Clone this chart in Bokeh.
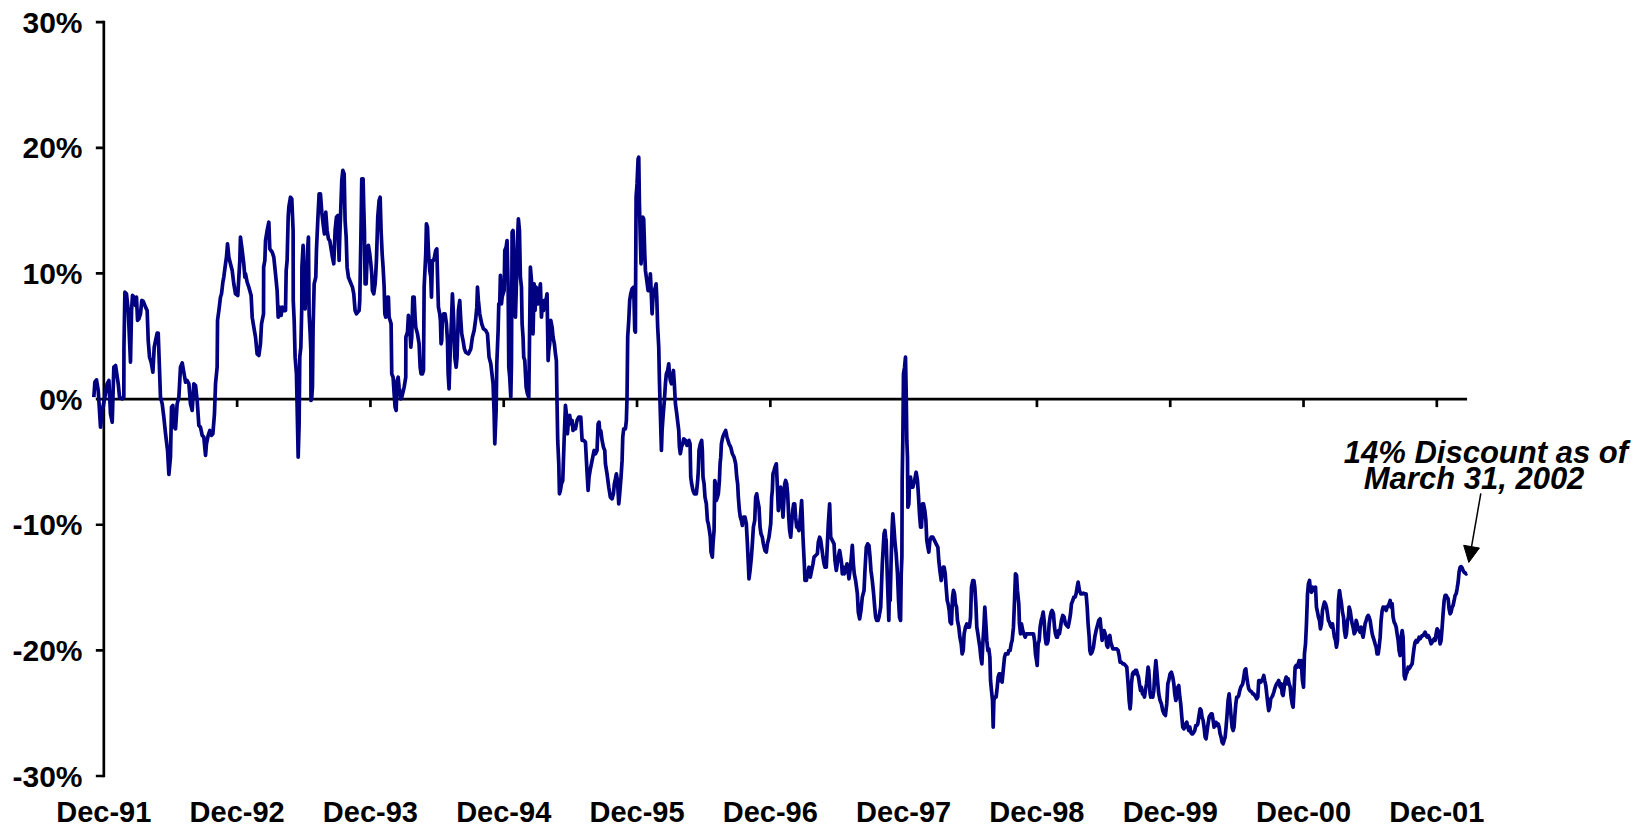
import numpy as np
from bokeh.plotting import figure
from bokeh.models import Range1d, FixedTicker, PrintfTickFormatter, Label, Arrow, NormalHead
from bokeh.embed import file_html
from bokeh.resources import INLINE

# ---- data: premium(+)/discount(-) in % ----
# each list holds (decimal year, percent) pairs; "Dec-91" tick == 1992.0
disc_1992_93 = [
    (1991.925, 0.15), (1991.933, 1.35), (1991.945, 1.53), (1991.958, 0.69), (1991.975, -2.24), (1991.988, -0.90),
    (1992.008, 0.15), (1992.025, 1.22), (1992.038, 1.48), (1992.050, -1.17), (1992.063, -1.83), (1992.075, 2.54),
    (1992.088, 2.67), (1992.108, 1.22), (1992.118, 0.15), (1992.138, 0.02), (1992.150, 0.15), (1992.151, 4.13),
    (1992.158, 8.51), (1992.170, 8.38), (1992.183, 7.05), (1992.200, 2.94), (1992.208, 7.05), (1992.215, 8.25),
    (1992.228, 8.11), (1992.238, 7.45), (1992.245, 8.11), (1992.253, 6.26), (1992.263, 6.39), (1992.275, 6.79),
    (1992.285, 7.85), (1992.295, 7.80), (1992.313, 7.32), (1992.325, 7.05), (1992.333, 4.66), (1992.343, 3.33),
    (1992.355, 2.94), (1992.368, 2.14), (1992.378, 4.13), (1992.388, 4.66), (1992.400, 5.25), (1992.408, 5.25),
    (1992.418, 2.28), (1992.425, 0.15), (1992.438, -0.38), (1992.450, -1.43), (1992.463, -2.76), (1992.478, -4.09),
    (1992.488, -6.00), (1992.500, -4.62), (1992.508, -0.64), (1992.518, -0.50), (1992.528, -2.23), (1992.538, -2.37),
    (1992.550, -0.38), (1992.563, 0.15), (1992.575, 2.54), (1992.588, 2.88), (1992.600, 2.14), (1992.613, 1.35),
    (1992.625, 1.48), (1992.638, 1.22), (1992.650, -0.38), (1992.663, -0.90), (1992.675, 1.22), (1992.688, 1.08),
    (1992.700, -0.11), (1992.713, -2.10), (1992.725, -2.23), (1992.738, -2.89), (1992.750, -3.02), (1992.763, -4.48),
    (1992.770, -3.56), (1992.783, -2.89), (1992.795, -2.50), (1992.808, -2.89), (1992.818, -2.76), (1992.830, -1.17),
    (1992.838, 1.22), (1992.850, 2.54), (1992.853, 6.26), (1992.863, 7.05), (1992.875, 8.11), (1992.883, 8.38),
    (1992.893, 9.31), (1992.900, 9.71), (1992.913, 10.77), (1992.920, 11.30), (1992.928, 12.36), (1992.938, 11.30),
    (1992.950, 10.77), (1992.963, 10.24), (1992.975, 9.17), (1992.988, 8.38), (1993.005, 8.25), (1993.013, 9.71),
    (1993.020, 11.03), (1993.025, 12.89), (1993.038, 11.83), (1993.050, 10.77), (1993.058, 9.71), (1993.063, 9.97),
    (1993.075, 9.31), (1993.088, 8.91), (1993.105, 8.25), (1993.113, 6.52), (1993.125, 5.73), (1993.138, 4.93),
    (1993.150, 3.60), (1993.163, 3.47), (1993.175, 4.40), (1993.183, 5.99), (1993.198, 6.79), (1993.199, 10.50),
    (1993.208, 11.03), (1993.213, 12.62), (1993.225, 13.42), (1993.238, 14.08), (1993.245, 11.96), (1993.263, 11.70),
    (1993.275, 11.30), (1993.288, 9.97), (1993.300, 8.64), (1993.308, 6.52), (1993.318, 7.32), (1993.330, 6.66),
    (1993.338, 7.32), (1993.350, 7.05), (1993.363, 7.05), (1993.368, 10.24), (1993.375, 11.03), (1993.383, 14.48),
    (1993.388, 15.28), (1993.400, 16.07),
]
disc_1993_94 = [
    (1993.410, 15.94), (1993.420, 13.42), (1993.421, 7.85), (1993.428, 6.26), (1993.435, 3.34), (1993.445, 2.01),
    (1993.458, -4.62), (1993.465, -1.98), (1993.470, 3.34), (1993.478, 4.13), (1993.485, 7.32), (1993.486, 10.50),
    (1993.495, 12.23), (1993.503, 7.32), (1993.510, 7.18), (1993.520, 9.44), (1993.528, 11.83), (1993.535, 12.89),
    (1993.540, 6.79), (1993.548, 5.19), (1993.553, 3.87), (1993.554, -0.11), (1993.560, 0.15), (1993.565, 0.95),
    (1993.570, 5.72), (1993.578, 9.17), (1993.590, 9.70), (1993.595, 11.83), (1993.605, 14.21), (1993.615, 16.34),
    (1993.625, 16.34), (1993.635, 14.88), (1993.645, 13.95), (1993.655, 13.15), (1993.665, 14.88), (1993.675, 13.42),
    (1993.685, 12.76), (1993.695, 12.62), (1993.705, 11.96), (1993.715, 11.30), (1993.725, 10.77), (1993.735, 13.42),
    (1993.745, 14.48), (1993.755, 14.61), (1993.765, 11.03), (1993.770, 12.89), (1993.778, 15.28), (1993.785, 17.40),
    (1993.793, 18.20), (1993.803, 17.93), (1993.810, 14.21), (1993.818, 12.89), (1993.825, 10.50), (1993.835, 9.70),
    (1993.845, 9.44), (1993.855, 9.17), (1993.865, 8.91), (1993.875, 8.38), (1993.885, 7.05), (1993.895, 6.79),
    (1993.905, 6.92), (1993.915, 7.05), (1993.920, 7.85), (1993.928, 12.62), (1993.935, 17.53), (1993.945, 17.53),
    (1993.950, 15.28), (1993.955, 13.42), (1993.960, 9.17), (1993.968, 9.17), (1993.978, 12.09), (1993.985, 12.23),
    (1993.995, 11.56), (1994.003, 10.77), (1994.010, 9.97), (1994.015, 8.64), (1994.025, 8.38), (1994.035, 9.17),
    (1994.040, 9.97), (1994.045, 11.03), (1994.055, 14.48), (1994.065, 15.81), (1994.073, 16.07), (1994.080, 13.42),
    (1994.088, 11.56), (1994.095, 10.50), (1994.103, 8.91), (1994.108, 6.79), (1994.115, 6.52), (1994.120, 7.05),
    (1994.128, 8.11), (1994.135, 8.11), (1994.140, 6.52), (1994.148, 6.26), (1994.155, 5.99), (1994.160, 2.01),
    (1994.170, 1.74), (1994.178, 0.42), (1994.185, -0.64), (1994.193, -0.90), (1994.200, 1.48), (1994.208, 1.74),
    (1994.215, 0.95), (1994.228, 0.02), (1994.235, 0.15), (1994.253, 0.95), (1994.265, 1.74), (1994.266, 4.93),
    (1994.278, 5.33), (1994.285, 6.66), (1994.295, 5.72), (1994.303, 4.13), (1994.310, 4.93), (1994.318, 8.11),
    (1994.328, 8.11), (1994.335, 6.52), (1994.340, 5.72), (1994.353, 5.19), (1994.365, 4.40), (1994.373, 2.54),
    (1994.380, 2.01), (1994.390, 2.01), (1994.398, 2.28), (1994.403, 8.91), (1994.415, 11.56), (1994.420, 13.95),
    (1994.428, 13.68), (1994.435, 11.83), (1994.445, 10.24), (1994.453, 9.70), (1994.458, 8.11), (1994.465, 11.03),
    (1994.473, 11.03), (1994.480, 11.30), (1994.490, 11.83), (1994.498, 11.96), (1994.503, 9.97), (1994.510, 7.32),
    (1994.520, 6.79), (1994.525, 6.26), (1994.530, 4.40), (1994.535, 4.66), (1994.540, 6.52), (1994.550, 6.79),
    (1994.560, 6.79), (1994.570, 5.99), (1994.578, 4.66), (1994.583, 2.01), (1994.590, 0.82), (1994.598, 3.60),
    (1994.608, 6.26), (1994.615, 8.38), (1994.625, 6.26), (1994.633, 3.34), (1994.643, 2.54), (1994.650, 3.34),
    (1994.660, 7.05), (1994.670, 7.85), (1994.678, 6.26), (1994.685, 5.19), (1994.695, 4.66), (1994.705, 4.00),
    (1994.715, 3.73), (1994.735, 3.60), (1994.753, 4.00), (1994.765, 4.93), (1994.778, 5.46), (1994.790, 6.39),
    (1994.798, 7.32), (1994.803, 8.91), (1994.810, 7.85), (1994.820, 6.79), (1994.835, 5.99), (1994.848, 5.59),
    (1994.865, 5.46), (1994.878, 5.19), (1994.890, 3.34), (1994.903, 2.81),
]
disc_1995_96 = [
    (1994.920, 1.22), (1994.928, -1.17), (1994.933, -3.56), (1994.943, -0.90), (1994.948, 2.81), (1994.953, 4.13),
    (1994.958, 5.46), (1994.963, 7.58), (1994.970, 7.58), (1994.975, 9.84), (1994.983, 7.58), (1994.988, 8.11),
    (1994.995, 8.38), (1995.003, 8.64), (1995.008, 11.83), (1995.018, 12.09), (1995.025, 12.62), (1995.033, 8.91),
    (1995.038, 2.54), (1995.045, 1.75), (1995.053, 0.15), (1995.058, 2.81), (1995.063, 13.29), (1995.070, 13.42),
    (1995.078, 9.70), (1995.088, 6.52), (1995.095, 9.17), (1995.103, 12.62), (1995.110, 14.34), (1995.118, 13.42),
    (1995.125, 9.70), (1995.133, 8.91), (1995.138, 5.99), (1995.145, 4.93), (1995.150, 3.34), (1995.158, 3.07),
    (1995.168, 0.95), (1995.178, 0.42), (1995.188, 0.15), (1995.193, 4.40), (1995.200, 10.50), (1995.208, 9.44),
    (1995.213, 7.58), (1995.220, 5.19), (1995.228, 9.17), (1995.235, 7.05), (1995.243, 8.91), (1995.250, 8.11),
    (1995.258, 7.58), (1995.268, 8.64), (1995.275, 9.17), (1995.283, 6.52), (1995.290, 7.58), (1995.298, 7.05),
    (1995.305, 7.85), (1995.313, 7.58), (1995.325, 8.38), (1995.333, 3.07), (1995.338, 3.87), (1995.345, 4.40),
    (1995.353, 6.26), (1995.363, 5.72), (1995.370, 4.93), (1995.380, 4.40), (1995.388, 3.60), (1995.395, 3.07),
    (1995.400, -0.37), (1995.405, -3.29), (1995.413, -5.15), (1995.418, -7.54), (1995.425, -7.28), (1995.433, -6.75),
    (1995.443, -6.48), (1995.453, -3.29), (1995.463, -0.50), (1995.470, -1.17), (1995.478, -2.76), (1995.488, -1.43),
    (1995.495, -1.30), (1995.503, -1.97), (1995.513, -1.70), (1995.520, -2.50), (1995.528, -2.23), (1995.538, -2.37),
    (1995.550, -1.70), (1995.563, -1.43), (1995.570, -1.43), (1995.578, -1.43), (1995.588, -3.29), (1995.600, -3.29),
    (1995.613, -3.42), (1995.625, -5.81), (1995.633, -7.27), (1995.640, -6.21), (1995.648, -5.68), (1995.658, -5.15),
    (1995.668, -4.62), (1995.678, -4.09), (1995.688, -4.36), (1995.700, -4.09), (1995.708, -1.97), (1995.715, -1.83),
    (1995.720, -2.50), (1995.728, -2.50), (1995.738, -3.29), (1995.748, -3.82), (1995.758, -4.09), (1995.763, -5.15),
    (1995.775, -5.95), (1995.788, -7.01), (1995.800, -7.81), (1995.813, -7.94), (1995.823, -7.54), (1995.830, -6.75),
    (1995.838, -6.35), (1995.845, -5.95), (1995.853, -6.48), (1995.863, -8.34), (1995.870, -7.54), (1995.880, -6.21),
    (1995.888, -4.88), (1995.893, -3.03), (1995.900, -2.37), (1995.913, -2.37), (1995.920, -1.70), (1995.925, 0.15),
    (1995.930, 4.93), (1995.938, 6.26), (1995.945, 7.85), (1995.953, 8.38), (1995.963, 8.78), (1995.975, 8.91),
    (1995.983, 5.46), (1995.988, 5.33), (1995.989, 8.11), (1995.993, 16.07), (1996.000, 17.13), (1996.008, 19.12),
    (1996.013, 19.25), (1996.018, 15.54), (1996.025, 12.62), (1996.030, 10.77), (1996.038, 12.09), (1996.043, 14.48),
    (1996.050, 14.34), (1996.058, 11.56), (1996.063, 10.24), (1996.070, 9.70), (1996.083, 8.64), (1996.093, 8.64),
    (1996.100, 9.97), (1996.105, 8.91), (1996.113, 6.79), (1996.120, 8.11), (1996.130, 8.64), (1996.138, 8.91),
    (1996.143, 9.17), (1996.148, 8.11), (1996.155, 5.72), (1996.163, 4.13), (1996.168, 1.48), (1996.175, -1.17),
    (1996.183, -4.09), (1996.188, -2.50), (1996.195, -1.43), (1996.205, -0.11), (1996.213, 1.22), (1996.220, 2.01),
    (1996.230, 2.28), (1996.238, 2.81), (1996.243, 2.01), (1996.250, 1.48), (1996.258, 1.22), (1996.265, 1.75),
    (1996.273, 2.28), (1996.280, 1.22), (1996.288, -0.37), (1996.298, -1.17), (1996.313, -2.50), (1996.318, -3.82),
    (1996.325, -4.35), (1996.333, -3.82), (1996.343, -3.56), (1996.350, -3.16), (1996.363, -3.29), (1996.375, -3.69),
    (1996.388, -3.56),
]
disc_1996_97 = [
    (1996.390, -3.29), (1996.398, -3.56), (1996.403, -6.21), (1996.410, -6.75), (1996.420, -7.28), (1996.430, -7.54),
    (1996.445, -7.54), (1996.455, -6.48), (1996.460, -5.68), (1996.465, -4.09), (1996.475, -3.56), (1996.485, -3.29),
    (1996.490, -4.09), (1996.495, -6.21), (1996.503, -6.75), (1996.510, -7.81), (1996.520, -8.34), (1996.528, -9.66),
    (1996.535, -9.93), (1996.543, -10.46), (1996.550, -10.99), (1996.555, -12.18), (1996.565, -12.58), (1996.570, -11.52),
    (1996.578, -10.46), (1996.583, -6.48), (1996.590, -6.75), (1996.595, -8.07), (1996.603, -7.81), (1996.610, -7.54),
    (1996.618, -6.48), (1996.623, -5.15), (1996.628, -4.62), (1996.633, -3.56), (1996.643, -3.03), (1996.653, -2.76),
    (1996.665, -2.50), (1996.675, -3.03), (1996.690, -3.56), (1996.703, -3.82), (1996.715, -4.35), (1996.728, -4.62),
    (1996.740, -5.15), (1996.748, -6.21), (1996.755, -6.75), (1996.760, -7.81), (1996.768, -8.87), (1996.775, -9.40),
    (1996.783, -9.66), (1996.790, -10.06), (1996.798, -9.40), (1996.810, -9.40), (1996.820, -9.93), (1996.828, -11.52),
    (1996.835, -13.11), (1996.840, -14.31), (1996.848, -13.64), (1996.858, -12.58), (1996.865, -11.52), (1996.873, -10.19),
    (1996.883, -9.66), (1996.890, -7.81), (1996.898, -7.54), (1996.905, -8.07), (1996.915, -8.60), (1996.923, -10.19),
    (1996.930, -10.72), (1996.940, -10.99), (1996.948, -11.52), (1996.960, -12.05), (1996.970, -12.18), (1996.978, -11.52),
    (1996.990, -10.99), (1997.003, -9.93), (1997.010, -7.81), (1997.015, -7.28), (1997.020, -5.95), (1997.028, -5.68),
    (1997.035, -5.42), (1997.045, -5.15), (1997.053, -7.01), (1997.060, -8.87), (1997.070, -7.81), (1997.078, -7.01),
    (1997.085, -7.81), (1997.095, -9.40), (1997.103, -7.81), (1997.108, -6.75), (1997.115, -6.48), (1997.123, -6.75),
    (1997.130, -7.54), (1997.138, -9.40), (1997.145, -10.46), (1997.153, -10.99), (1997.160, -9.93), (1997.168, -8.87),
    (1997.175, -8.34), (1997.183, -8.34), (1997.190, -9.40), (1997.198, -10.19), (1997.205, -10.19), (1997.215, -10.46),
    (1997.225, -9.40), (1997.235, -8.07), (1997.240, -9.40), (1997.245, -10.99), (1997.250, -12.05), (1997.255, -13.11),
    (1997.260, -14.44), (1997.270, -14.44), (1997.280, -13.91), (1997.290, -13.38), (1997.300, -14.17), (1997.310, -13.64),
    (1997.320, -13.11), (1997.328, -12.58), (1997.340, -12.45), (1997.353, -12.31), (1997.360, -11.39), (1997.370, -10.99),
    (1997.378, -11.25), (1997.385, -11.78), (1997.395, -12.58), (1997.403, -13.11), (1997.410, -13.38), (1997.420, -13.38),
    (1997.428, -11.52), (1997.435, -9.93), (1997.440, -9.13), (1997.445, -8.34), (1997.453, -10.99), (1997.465, -11.25),
    (1997.478, -11.52), (1997.485, -12.85), (1997.495, -13.64), (1997.503, -13.11), (1997.510, -12.58), (1997.520, -12.05),
    (1997.528, -12.58), (1997.535, -13.11), (1997.540, -13.91), (1997.548, -13.38), (1997.555, -13.91), (1997.565, -13.64),
    (1997.575, -13.11), (1997.583, -13.64), (1997.590, -14.31), (1997.598, -13.64), (1997.608, -12.58), (1997.615, -11.65),
    (1997.623, -13.11), (1997.630, -13.91), (1997.640, -14.44), (1997.653, -15.50), (1997.660, -16.96), (1997.670, -17.49),
    (1997.680, -16.83), (1997.690, -15.76), (1997.703, -15.23), (1997.710, -13.64), (1997.720, -11.78), (1997.730, -11.52),
    (1997.740, -11.65), (1997.748, -12.58), (1997.755, -13.64), (1997.765, -14.44), (1997.775, -15.50), (1997.783, -16.56),
    (1997.790, -17.36), (1997.798, -17.62), (1997.808, -17.62), (1997.815, -17.36), (1997.828, -16.56), (1997.840, -13.11),
    (1997.853, -10.72), (1997.860, -10.46), (1997.865, -10.99),
]
disc_1998_99 = [
    (1997.869, -11.26), (1997.877, -13.91), (1997.884, -16.03), (1997.889, -17.62), (1997.894, -14.70), (1997.899, -16.03),
    (1997.907, -12.58), (1997.914, -10.19), (1997.919, -9.13), (1997.927, -10.19), (1997.934, -11.26), (1997.944, -12.32),
    (1997.954, -13.91), (1997.962, -16.03), (1997.969, -17.36), (1997.977, -17.62), (1997.982, -13.91), (1997.987, -12.58),
    (1997.989, -6.48), (1997.994, -3.29), (1997.999, 2.01), (1998.007, 2.54), (1998.014, 3.34), (1998.019, 0.68),
    (1998.024, -3.29), (1998.029, -4.62), (1998.032, -8.60), (1998.039, -8.34), (1998.044, -6.75), (1998.052, -6.21),
    (1998.059, -7.01), (1998.069, -7.01), (1998.082, -6.48), (1998.094, -5.82), (1998.104, -6.48), (1998.112, -7.81),
    (1998.119, -9.13), (1998.127, -10.19), (1998.134, -10.19), (1998.142, -8.34), (1998.149, -8.34), (1998.159, -8.87),
    (1998.167, -9.66), (1998.174, -11.26), (1998.182, -11.79), (1998.189, -12.18), (1998.197, -11.26), (1998.207, -10.99),
    (1998.219, -10.99), (1998.232, -11.26), (1998.244, -11.52), (1998.257, -11.79), (1998.264, -12.85), (1998.272, -13.64),
    (1998.282, -14.44), (1998.289, -13.91), (1998.297, -13.38), (1998.304, -13.38), (1998.312, -13.91), (1998.319, -14.97),
    (1998.327, -16.03), (1998.334, -16.30), (1998.342, -16.83), (1998.349, -17.75), (1998.359, -17.89), (1998.367, -15.76),
    (1998.374, -15.23), (1998.382, -15.50), (1998.389, -16.30), (1998.397, -16.56), (1998.404, -17.62), (1998.414, -18.15),
    (1998.422, -18.95), (1998.432, -19.48), (1998.439, -20.28), (1998.447, -20.01), (1998.454, -18.68), (1998.464, -18.15),
    (1998.474, -17.89), (1998.484, -18.15), (1998.494, -18.15), (1998.502, -17.36), (1998.509, -14.97), (1998.519, -14.44),
    (1998.527, -14.44), (1998.534, -14.97), (1998.542, -16.30), (1998.549, -18.15), (1998.557, -18.68), (1998.564, -19.21),
    (1998.572, -19.74), (1998.579, -20.54), (1998.587, -21.07), (1998.594, -19.48), (1998.602, -18.15), (1998.609, -16.56),
    (1998.617, -17.89), (1998.624, -19.21), (1998.632, -20.01), (1998.639, -19.88), (1998.647, -20.54), (1998.652, -22.40),
    (1998.659, -23.19), (1998.667, -23.99), (1998.672, -26.11), (1998.677, -23.99), (1998.684, -23.72), (1998.694, -23.72),
    (1998.702, -22.93), (1998.709, -22.13), (1998.717, -21.87), (1998.724, -22.40), (1998.732, -21.87), (1998.739, -22.53),
    (1998.747, -21.60), (1998.757, -20.54), (1998.764, -20.28), (1998.774, -20.28), (1998.782, -20.28), (1998.789, -20.01),
    (1998.799, -20.01), (1998.807, -19.48), (1998.814, -19.21), (1998.824, -18.15), (1998.832, -16.03), (1998.839, -13.91),
    (1998.847, -14.04), (1998.854, -15.23), (1998.864, -16.30), (1998.869, -17.89), (1998.877, -18.68), (1998.884, -17.89),
    (1998.894, -18.42), (1998.902, -18.68), (1998.912, -18.95), (1998.922, -18.68), (1998.932, -18.68), (1998.944, -18.68),
    (1998.957, -18.68), (1998.964, -18.68), (1998.974, -18.68), (1998.982, -19.21), (1998.989, -20.28), (1998.997, -20.81),
    (1999.002, -21.20), (1999.009, -19.48), (1999.017, -19.21), (1999.024, -18.15), (1999.032, -17.62), (1999.039, -17.36),
    (1999.047, -16.96), (1999.054, -17.62), (1999.062, -18.95), (1999.069, -19.48), (1999.077, -19.48), (1999.084, -19.21),
    (1999.092, -17.89), (1999.099, -17.36), (1999.107, -16.96), (1999.114, -16.83), (1999.124, -17.09), (1999.132, -18.15),
    (1999.139, -18.68), (1999.147, -18.95), (1999.154, -18.95), (1999.162, -18.42), (1999.169, -18.68), (1999.177, -18.15),
    (1999.184, -17.62), (1999.194, -17.22), (1999.204, -17.36), (1999.214, -17.89), (1999.224, -18.02), (1999.234, -18.15),
    (1999.244, -17.62), (1999.252, -17.09), (1999.259, -16.30), (1999.269, -16.03), (1999.277, -15.76), (1999.287, -15.76),
    (1999.294, -15.50), (1999.302, -14.97), (1999.309, -14.57), (1999.319, -15.23), (1999.329, -15.50), (1999.339, -15.50),
]
disc_1999_00 = [
    (1999.349, -15.45), (1999.359, -15.50), (1999.369, -15.50), (1999.377, -16.56), (1999.384, -17.89), (1999.392, -18.95),
    (1999.397, -20.01), (1999.404, -20.28), (1999.414, -20.14), (1999.424, -19.75), (1999.434, -18.95), (1999.444, -18.42),
    (1999.454, -18.02), (1999.464, -17.62), (1999.474, -17.49), (1999.482, -18.42), (1999.489, -19.21), (1999.497, -18.68),
    (1999.504, -18.42), (1999.512, -18.68), (1999.519, -19.08), (1999.524, -19.61), (1999.532, -19.75), (1999.539, -18.95),
    (1999.547, -18.82), (1999.554, -19.35), (1999.562, -19.61), (1999.569, -19.88), (1999.579, -19.88), (1999.589, -19.88),
    (1999.599, -19.88), (1999.609, -20.01), (1999.617, -20.41), (1999.624, -20.94), (1999.634, -20.94), (1999.644, -21.07),
    (1999.654, -21.07), (1999.664, -21.20), (1999.674, -21.34), (1999.684, -22.66), (1999.692, -23.99), (1999.699, -24.65),
    (1999.704, -24.12), (1999.709, -22.66), (1999.717, -21.87), (1999.724, -21.74), (1999.732, -21.87), (1999.739, -21.60),
    (1999.747, -21.60), (1999.754, -21.87), (1999.762, -22.13), (1999.769, -22.66), (1999.777, -23.19), (1999.784, -22.93),
    (1999.792, -23.46), (1999.799, -23.46), (1999.807, -23.72), (1999.814, -23.19), (1999.822, -22.66), (1999.829, -21.87),
    (1999.834, -21.34), (1999.839, -21.60), (1999.844, -22.40), (1999.849, -23.46), (1999.854, -23.72), (1999.862, -23.59),
    (1999.869, -23.72), (1999.877, -23.19), (1999.884, -21.87), (1999.892, -20.81), (1999.899, -21.60), (1999.907, -22.66),
    (1999.914, -23.46), (1999.924, -23.99), (1999.934, -24.26), (1999.944, -24.79), (1999.954, -25.05), (1999.964, -25.18),
    (1999.974, -24.26), (1999.982, -22.66), (1999.989, -22.40), (1999.999, -21.87), (2000.009, -21.74), (2000.019, -22.13),
    (2000.027, -22.66), (2000.034, -23.46), (2000.042, -23.99), (2000.049, -23.72), (2000.057, -22.93), (2000.064, -22.80),
    (2000.072, -23.72), (2000.079, -24.26), (2000.087, -25.32), (2000.094, -26.11), (2000.102, -26.25), (2000.109, -26.11),
    (2000.117, -25.85), (2000.124, -25.72), (2000.132, -26.11), (2000.139, -26.38), (2000.147, -26.11), (2000.154, -26.51),
    (2000.162, -26.64), (2000.169, -26.64), (2000.177, -26.51), (2000.184, -26.38), (2000.192, -25.98), (2000.199, -25.98),
    (2000.207, -25.85), (2000.214, -25.32), (2000.224, -24.65), (2000.232, -24.79), (2000.239, -25.32), (2000.247, -25.58),
    (2000.254, -26.11), (2000.262, -26.91), (2000.269, -27.04), (2000.277, -26.38), (2000.284, -25.85), (2000.292, -25.32),
    (2000.299, -25.18), (2000.307, -25.05), (2000.314, -25.05), (2000.322, -25.58), (2000.329, -26.11), (2000.337, -25.72),
    (2000.344, -25.72), (2000.352, -25.98), (2000.359, -25.85), (2000.367, -26.11), (2000.374, -26.64), (2000.382, -26.91),
    (2000.389, -27.31), (2000.397, -27.44), (2000.404, -27.17), (2000.412, -26.91), (2000.419, -26.11), (2000.427, -25.05),
    (2000.434, -23.99), (2000.442, -23.46), (2000.449, -24.26), (2000.457, -25.32), (2000.464, -26.11), (2000.472, -26.38),
    (2000.479, -26.11), (2000.484, -25.32), (2000.492, -24.26), (2000.499, -23.72), (2000.507, -23.72), (2000.514, -23.59),
    (2000.522, -23.19), (2000.529, -22.93), (2000.537, -22.80), (2000.544, -22.66), (2000.552, -22.13), (2000.559, -21.60),
    (2000.567, -21.47), (2000.574, -22.13), (2000.582, -22.66), (2000.589, -23.06), (2000.597, -23.19), (2000.604, -23.25),
    (2000.612, -23.33), (2000.619, -23.46), (2000.627, -23.46), (2000.634, -23.59), (2000.642, -23.72), (2000.649, -23.86),
    (2000.657, -23.72), (2000.664, -22.40), (2000.672, -22.40), (2000.679, -22.53), (2000.687, -22.40), (2000.694, -22.27),
    (2000.702, -22.00), (2000.709, -22.40), (2000.717, -22.80), (2000.724, -23.46), (2000.732, -24.26), (2000.739, -24.79),
    (2000.747, -24.52), (2000.754, -23.86), (2000.762, -23.72), (2000.769, -23.59), (2000.777, -23.33), (2000.784, -23.06),
    (2000.792, -22.80), (2000.799, -22.66), (2000.807, -22.53), (2000.814, -22.40),
]
disc_2001_02 = [
    (2000.825, -22.93), (2000.832, -22.66), (2000.840, -23.46), (2000.847, -23.59), (2000.855, -22.93), (2000.862, -22.40),
    (2000.870, -22.13), (2000.877, -22.66), (2000.885, -22.27), (2000.892, -22.66), (2000.900, -22.93), (2000.907, -23.72),
    (2000.915, -24.26), (2000.922, -24.52), (2000.930, -22.93), (2000.937, -21.34), (2000.945, -21.20), (2000.952, -21.34),
    (2000.960, -21.07), (2000.967, -20.81), (2000.975, -21.34), (2000.982, -20.81), (2000.992, -22.40), (2001.000, -22.93),
    (2001.007, -20.28), (2001.015, -19.48), (2001.022, -17.89), (2001.030, -15.50), (2001.037, -14.70), (2001.045, -14.44),
    (2001.052, -15.24), (2001.060, -15.37), (2001.067, -14.97), (2001.075, -15.10), (2001.082, -15.24), (2001.090, -14.97),
    (2001.097, -16.56), (2001.105, -16.96), (2001.112, -17.36), (2001.120, -17.62), (2001.127, -18.29), (2001.135, -17.89),
    (2001.142, -16.83), (2001.150, -16.43), (2001.157, -16.16), (2001.165, -16.30), (2001.172, -16.56), (2001.180, -17.09),
    (2001.187, -17.62), (2001.195, -17.76), (2001.202, -18.02), (2001.210, -18.15), (2001.217, -17.89), (2001.225, -18.42),
    (2001.232, -18.95), (2001.240, -19.21), (2001.247, -19.75), (2001.255, -19.21), (2001.262, -16.03), (2001.270, -15.24),
    (2001.277, -15.77), (2001.285, -16.30), (2001.292, -16.96), (2001.300, -17.36), (2001.307, -18.42), (2001.315, -18.95),
    (2001.322, -18.68), (2001.330, -17.62), (2001.337, -17.36), (2001.342, -16.56), (2001.350, -16.83), (2001.357, -17.36),
    (2001.365, -17.89), (2001.372, -18.15), (2001.380, -18.68), (2001.387, -18.55), (2001.395, -17.62), (2001.402, -17.89),
    (2001.410, -18.29), (2001.417, -18.42), (2001.425, -18.55), (2001.432, -18.15), (2001.440, -18.68), (2001.447, -18.95),
    (2001.455, -18.42), (2001.462, -17.89), (2001.470, -17.62), (2001.477, -17.36), (2001.485, -17.22), (2001.492, -17.36),
    (2001.500, -17.62), (2001.507, -18.15), (2001.515, -18.68), (2001.522, -18.95), (2001.530, -19.21), (2001.537, -19.48),
    (2001.545, -19.75), (2001.552, -20.28), (2001.560, -20.28), (2001.567, -19.75), (2001.575, -18.95), (2001.582, -17.62),
    (2001.590, -16.83), (2001.597, -16.56), (2001.605, -16.69), (2001.612, -16.56), (2001.620, -16.83), (2001.627, -16.56),
    (2001.635, -16.43), (2001.642, -16.30), (2001.650, -16.03), (2001.657, -16.56), (2001.665, -16.30), (2001.672, -17.36),
    (2001.680, -17.76), (2001.687, -17.89), (2001.695, -18.15), (2001.702, -18.68), (2001.710, -19.21), (2001.717, -20.01),
    (2001.725, -20.41), (2001.732, -18.95), (2001.740, -18.42), (2001.747, -18.95), (2001.755, -22.00), (2001.762, -22.27),
    (2001.770, -21.87), (2001.777, -21.74), (2001.785, -21.34), (2001.792, -21.47), (2001.800, -21.34), (2001.807, -21.20),
    (2001.815, -21.07), (2001.822, -20.41), (2001.830, -19.75), (2001.837, -19.35), (2001.845, -19.21), (2001.852, -19.35),
    (2001.860, -19.21), (2001.867, -18.95), (2001.875, -19.08), (2001.882, -18.95), (2001.890, -18.82), (2001.897, -18.82),
    (2001.905, -18.68), (2001.912, -18.55), (2001.920, -18.82), (2001.927, -18.95), (2001.935, -18.82), (2001.942, -18.95),
    (2001.950, -19.21), (2001.957, -19.48), (2001.965, -19.35), (2001.972, -19.21), (2001.980, -19.08), (2001.987, -19.21),
    (2001.995, -18.68), (2002.002, -18.29), (2002.010, -18.42), (2002.017, -18.95), (2002.025, -19.48), (2002.032, -19.21),
    (2002.040, -18.15), (2002.047, -17.09), (2002.055, -16.03), (2002.062, -15.63), (2002.070, -15.63), (2002.077, -15.77),
    (2002.085, -15.90), (2002.092, -16.69), (2002.100, -17.09), (2002.107, -16.96), (2002.115, -16.56), (2002.122, -16.43),
    (2002.130, -16.03), (2002.137, -15.63), (2002.145, -15.50), (2002.152, -15.10), (2002.160, -14.57), (2002.167, -13.78),
    (2002.175, -13.38), (2002.182, -13.33), (2002.190, -13.43), (2002.197, -13.64), (2002.205, -13.78), (2002.212, -13.83),
    (2002.220, -13.91), (2002.227, -13.86),
]

y_ticks = [-30, -20, -10, 0, 10, 20, 30]
x_tick_years = [1992, 1993, 1994, 1995, 1996, 1997, 1998, 1999, 2000, 2001, 2002]
x_tick_labels = ["Dec-91", "Dec-92", "Dec-93", "Dec-94", "Dec-95", "Dec-96",
                 "Dec-97", "Dec-98", "Dec-99", "Dec-00", "Dec-01"]
note_line1 = "14% Discount as of"
note_line2 = "March 31, 2002"

segments = [disc_1992_93, disc_1993_94, disc_1995_96, disc_1996_97, disc_1998_99, disc_1999_00, disc_2001_02]
points = [pt for seg in segments for pt in seg]
years = [pt[0] for pt in points]
discount = [pt[1] for pt in points]

FONT = "Liberation Sans"
AXIS_W = 2.7

p = figure(width=1644, height=831, output_backend="svg", toolbar_location=None,
           x_range=Range1d(1991.9, 2003.558), y_range=Range1d(-30.756, 31.09),
           min_border_left=90, min_border_right=0, min_border_top=8, min_border_bottom=46)
p.grid.visible = False
p.outline_line_color = None
p.background_fill_color = "white"
p.border_fill_color = "white"

# y axis: labels from Bokeh axis, line and ticks drawn at the Dec-91 position
p.yaxis.ticker = FixedTicker(ticks=y_ticks)
p.yaxis.formatter = PrintfTickFormatter(format="%d%%")
p.yaxis.axis_line_color = None
p.yaxis.major_tick_line_color = None
p.yaxis.minor_tick_line_color = None
p.yaxis.major_tick_out = 0
p.yaxis.major_tick_in = 0
p.yaxis.major_label_standoff = 8
p.yaxis.major_label_text_font = FONT
p.yaxis.major_label_text_font_style = "bold"
p.yaxis.major_label_text_font_size = "30px"
p.yaxis.major_label_text_color = "black"

# x axis labels at the bottom
p.xaxis.ticker = FixedTicker(ticks=x_tick_years)
p.xaxis.major_label_overrides = dict(zip(x_tick_years, x_tick_labels))
p.xaxis.axis_line_color = None
p.xaxis.major_tick_line_color = None
p.xaxis.minor_tick_line_color = None
p.xaxis.major_tick_out = 0
p.xaxis.major_tick_in = 0
p.xaxis.major_label_standoff = 10
p.xaxis.major_label_text_font = FONT
p.xaxis.major_label_text_font_style = "bold"
p.xaxis.major_label_text_font_size = "29px"
p.xaxis.major_label_text_color = "black"

x0 = x_tick_years[0]
# vertical axis line + ticks
p.segment(x0=[x0], y0=[y_ticks[0]], x1=[x0], y1=[y_ticks[-1]], line_color="black",
          line_width=AXIS_W, line_cap="square")
p.ray(x=[x0] * len(y_ticks), y=y_ticks, length=8, length_units="screen", angle=np.pi,
      line_color="black", line_width=AXIS_W)
# horizontal axis at 0% + ticks
p.segment(x0=[x0], y0=[0], x1=[years[-1]], y1=[0], line_color="black", line_width=AXIS_W)
p.ray(x=x_tick_years, y=[0] * len(x_tick_years), length=8, length_units="screen", angle=-np.pi / 2,
      line_color="black", line_width=AXIS_W)

# data line
p.line(years, discount, line_color="#000080", line_width=3.7, line_join="round")

# annotation
for txt, xx, yy in [(note_line1, 2001.302, -4.25), (note_line2, 2001.452, -6.32)]:
    p.add_layout(Label(x=xx, y=yy, text=txt, text_font=FONT, text_font_style="bold italic",
                       text_font_size="31px", text_color="black", text_align="left",
                       text_baseline="alphabetic"))
p.add_layout(Arrow(end=NormalHead(size=16, fill_color="black", line_color="black"),
                   x_start=2002.33, y_start=-7.51, x_end=2002.24, y_end=-13.0,
                   line_color="black", line_width=1.5))

open("out.html", "w").write(file_html(p, INLINE))
